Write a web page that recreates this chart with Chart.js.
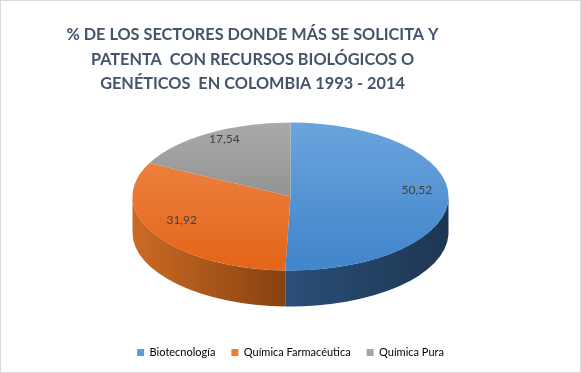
<!DOCTYPE html>
<html lang="es">
  <head>
    <meta charset="UTF-8" />
    <title>Sectores</title>
    <style>
      body {
        margin: 0;
        background: #fff;
      }
      .frame {
        position: relative;
        width: 581px;
        height: 373px;
        box-sizing: border-box;
        border: 1px solid #d9d9d9;
      }
    </style>
  </head>
  <body>
    <div class="frame">
      <canvas id="pie"></canvas>
    </div>

    <script src="https://cdn.jsdelivr.net/npm/chart.js"></script>
    <script>
      const sectors = ["Biotecnología", "Química Farmacéutica", "Química Pura"];
      const shares = [50.52, 31.92, 17.54];
      const shareLabels = ["50,52", "31,92", "17,54"];
      const titleLines = [
        "% DE LOS SECTORES DONDE MÁS SE SOLICITA Y",
        "PATENTA  CON RECURSOS BIOLÓGICOS O",
        "GENÉTICOS  EN COLOMBIA 1993 - 2014",
      ];

      // top face colours (light -> dark) and side colours (left -> right)
      const topColors = [
        ["#6ea6de", "#4286cb"],
        ["#f08d50", "#e4661a"],
        ["#acacac", "#808080"],
      ];
      const sideColors = [
        ["#2b4f78", "#1d3652"],
        ["#cc6a24", "#86420f"],
        ["#7a7a7a", "#5a5a5a"],
      ];
      const legendColors = ["#5b9bd5", "#ed7d31", "#a5a5a5"];

      const tilt = 74 / 158;
      const depth = 36;

      function centerOf(chart) {
        const arc = chart.getDatasetMeta(0).data[0];
        return { x: arc.x, y: arc.y - depth / 2, r: arc.outerRadius };
      }

      // title is set a bit left of the middle, like the original sheet
      const sheetTitle = {
        id: "sheetTitle",
        afterDraw(chart) {
          const ctx = chart.ctx;
          ctx.save();
          ctx.font = "bold 16.3px Lato";
          ctx.fillStyle = "#44546a";
          ctx.textAlign = "center";
          ctx.textBaseline = "middle";
          const x = chart.width / 2 - 38;
          titleLines.forEach((line, i) => ctx.fillText(line, x, 34 + i * 24.5));
          ctx.restore();
        },
      };

      const pie3d = {
        id: "pie3d",
        beforeDatasetsDraw(chart) {
          const ctx = chart.ctx;
          const c = centerOf(chart);
          const arcs = chart.getDatasetMeta(0).data;
          ctx.save();
          ctx.translate(c.x, c.y);
          ctx.scale(1, tilt);
          ctx.translate(-c.x, -c.y);
          const d = depth / tilt;
          // side walls, only the front half (0..PI) can be seen
          arcs.forEach((arc, i) => {
            const a1 = Math.max(arc.startAngle, 0);
            const a2 = Math.min(arc.endAngle, Math.PI);
            if (a2 <= a1) return;
            const x1 = c.x + Math.cos(a1) * c.r;
            const x2 = c.x + Math.cos(a2) * c.r;
            const g = ctx.createLinearGradient(Math.min(x1, x2), 0, Math.max(x1, x2), 0);
            g.addColorStop(0, sideColors[i][0]);
            g.addColorStop(1, sideColors[i][1]);
            ctx.beginPath();
            ctx.arc(c.x, c.y, c.r, a1, a2);
            ctx.arc(c.x, c.y + d, c.r, a2, a1, true);
            ctx.closePath();
            ctx.fillStyle = g;
            ctx.fill();
          });
          // the library draws the top face under the same squash
          ctx.translate(0, -depth / 2);
        },
        afterDatasetsDraw(chart) {
          const ctx = chart.ctx;
          ctx.restore();
          const c = centerOf(chart);
          ctx.save();
          ctx.font = "12px Lato";
          ctx.fillStyle = "#404040";
          ctx.textAlign = "center";
          ctx.textBaseline = "middle";
          chart.getDatasetMeta(0).data.forEach((arc, i) => {
            const mid = (arc.startAngle + arc.endAngle) / 2;
            const rr = c.r * 0.8;
            ctx.fillText(
              shareLabels[i],
              c.x + Math.cos(mid) * rr,
              c.y + Math.sin(mid) * rr * tilt - 7
            );
          });
          ctx.restore();
        },
      };

      new Chart(document.getElementById("pie"), {
        type: "pie",
        data: {
          labels: sectors,
          datasets: [
            {
              data: shares,
              radius: 158,
              borderWidth: 0,
              backgroundColor: (context) => {
                const chart = context.chart;
                const area = chart.chartArea;
                if (!area) return topColors[context.dataIndex][1];
                const cy = (area.top + area.bottom) / 2 - depth / 2;
                const g = chart.ctx.createLinearGradient(0, cy - 158, 0, cy + 158);
                g.addColorStop(0, topColors[context.dataIndex][0]);
                g.addColorStop(1, topColors[context.dataIndex][1]);
                return g;
              },
            },
          ],
        },
        options: {
          responsive: true,
          maintainAspectRatio: false,
          animation: false,
          events: [],
          layout: { padding: { top: 97, bottom: 4 } },
          plugins: {
            title: { display: false },
            legend: {
              position: "bottom",
              labels: {
                boxWidth: 7,
                boxHeight: 7,
                padding: 16,
                color: "#595959",
                font: { family: "Lato", size: 11 },
                generateLabels: (chart) =>
                  sectors.map((s, i) => ({
                    text: s,
                    fillStyle: legendColors[i],
                    strokeStyle: legendColors[i],
                    lineWidth: 0,
                    index: i,
                  })),
              },
            },
            tooltip: { enabled: false },
          },
        },
        plugins: [pie3d, sheetTitle],
      });
    </script>
  </body>
</html>
